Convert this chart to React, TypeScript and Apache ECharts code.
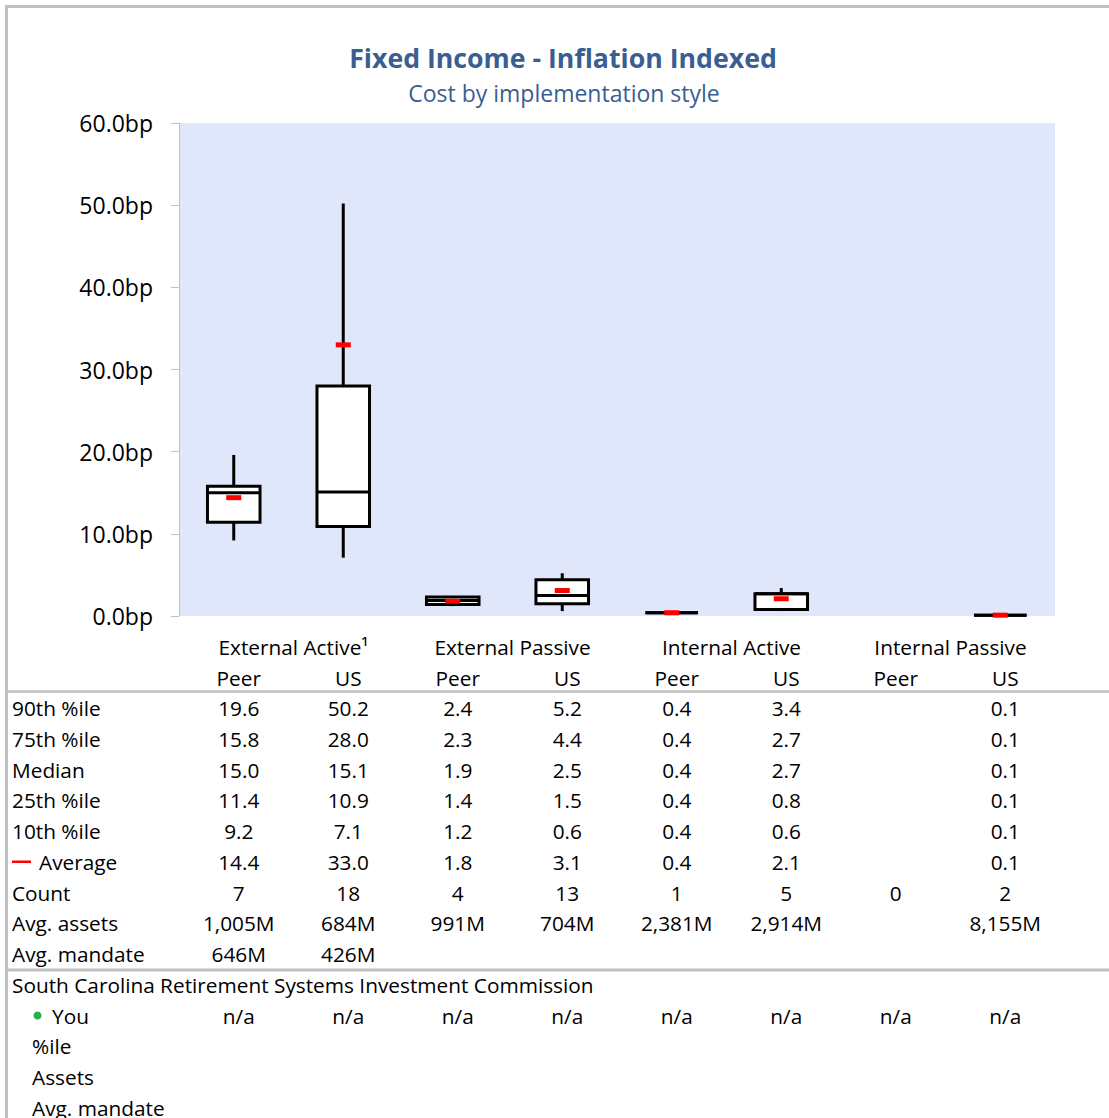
import React, { useEffect, useRef } from "react";
import * as echarts from "echarts";

const categories = ["Peer", "US", "Peer", "US", "Peer", "US", "Peer", "US"];
const groups = ["External Active¹", "External Passive", "Internal Active", "Internal Passive"];
const yTicks = [0, 10, 20, 30, 40, 50, 60];

const p90 = [19.6, 50.2, 2.4, 5.2, 0.4, 3.4, null, 0.1];
const p75 = [15.8, 28.0, 2.3, 4.4, 0.4, 2.7, null, 0.1];
const median = [15.0, 15.1, 1.9, 2.5, 0.4, 2.7, null, 0.1];
const p25 = [11.4, 10.9, 1.4, 1.5, 0.4, 0.8, null, 0.1];
const p10 = [9.2, 7.1, 1.2, 0.6, 0.4, 0.6, null, 0.1];
const average = [14.4, 33.0, 1.8, 3.1, 0.4, 2.1, null, 0.1];
const counts = ["7", "18", "4", "13", "1", "5", "0", "2"];
const avgAssets = ["1,005M", "684M", "991M", "704M", "2,381M", "2,914M", "", "8,155M"];
const avgMandate = ["646M", "426M", "", "", "", "", "", ""];
const youValues = ["n/a", "n/a", "n/a", "n/a", "n/a", "n/a", "n/a", "n/a"];

const FONT = "Open Sans";
const TXT = 20.8;

export default function App() {
  const ref = useRef<HTMLDivElement>(null);
  useEffect(() => {
    if (!ref.current) return;
    const chart = echarts.init(ref.current, null, { renderer: "svg" });

    const boxData: number[][] = [];
    const avgData: number[][] = [];
    categories.forEach((_, i) => {
      if (p90[i] != null) {
        boxData.push([i, p10[i] as number, p25[i] as number, median[i] as number, p75[i] as number, p90[i] as number]);
        avgData.push([i, average[i] as number]);
      }
    });

    chart.setOption({
      animation: false,
      textStyle: { fontFamily: FONT },
      grid: { left: 179, top: 123, right: 54, bottom: 502, backgroundColor: "#e1e7fa", show: true, borderWidth: 0 },
      xAxis: {
        type: "category",
        data: categories.map((c, i) => i),
        axisLine: { show: false },
        axisTick: { show: false },
        axisLabel: { show: false },
        splitLine: { show: false },
      },
      yAxis: {
        type: "value",
        min: yTicks[0],
        max: yTicks[yTicks.length - 1],
        interval: 10,
        axisLine: { show: true, lineStyle: { color: "#c0c0c0", width: 1 } },
        axisTick: { show: true, length: 8, lineStyle: { color: "#c0c0c0" } },
        splitLine: { show: false },
        axisLabel: {
          fontSize: 23,
          color: "#000",
          fontFamily: FONT,
          margin: 26,
          formatter: (v: number) => v.toFixed(1) + "bp",
        },
      },
      series: [
        {
          type: "custom",
          data: boxData,
          encode: { x: 0, y: [1, 2, 3, 4, 5] },
          renderItem: (params: any, api: any) => {
            const idx = api.value(0);
            const lo = api.coord([idx, api.value(1)]);
            const q1 = api.coord([idx, api.value(2)]);
            const md = api.coord([idx, api.value(3)]);
            const q3 = api.coord([idx, api.value(4)]);
            const hi = api.coord([idx, api.value(5)]);
            const w = api.size([1, 0])[0] * 0.48;
            const x = lo[0];
            const st = { stroke: "#000", lineWidth: 3 };
            return {
              type: "group",
              children: [
                { type: "line", shape: { x1: x, y1: lo[1], x2: x, y2: q1[1] }, style: st },
                { type: "line", shape: { x1: x, y1: q3[1], x2: x, y2: hi[1] }, style: st },
                {
                  type: "rect",
                  shape: { x: x - w / 2, y: q3[1], width: w, height: q1[1] - q3[1] },
                  style: { fill: "#fff", stroke: "#000", lineWidth: 3 },
                },
                { type: "line", shape: { x1: x - w / 2, y1: md[1], x2: x + w / 2, y2: md[1] }, style: st },
              ],
            };
          },
        },
        {
          type: "custom",
          data: avgData,
          encode: { x: 0, y: 1 },
          z: 5,
          renderItem: (params: any, api: any) => {
            const p = api.coord([api.value(0), api.value(1)]);
            return {
              type: "rect",
              shape: { x: p[0] - 7.5, y: p[1] - 2.5, width: 15, height: 5 },
              style: { fill: "#ff0000" },
            };
          },
        },
      ],
    });

    const xs = categories.map((_, i) => chart.convertToPixel({ xAxisIndex: 0 }, i) as number);
    const off = 5;
    const g: any[] = [];
    const txt = (text: string, x: number, y: number, align: string, extra: any = {}) =>
      g.push({
        type: "text",
        x,
        y,
        style: {
          text,
          fontSize: TXT,
          fontFamily: FONT,
          fill: "#000",
          textAlign: align,
          textVerticalAlign: "middle",
          ...extra,
        },
      });

    // frame
    g.push({ type: "line", shape: { x1: 6.5, y1: 5, x2: 6.5, y2: 1118 }, style: { stroke: "#c0c0c0", lineWidth: 3 } });
    g.push({ type: "line", shape: { x1: 5, y1: 6.5, x2: 1109, y2: 6.5 }, style: { stroke: "#c0c0c0", lineWidth: 3 } });

    // titles
    txt("Fixed Income - Inflation Indexed", 563, 57, "center", { fontSize: 26.7, fontWeight: "bold", fill: "#3a5e92" });
    txt("Cost by implementation style", 564, 93, "center", { fontSize: 23, fill: "#3a5e92" });

    // group headers
    groups.forEach((gname, k) => {
      txt(gname, (xs[2 * k] + xs[2 * k + 1]) / 2 + off, 647, "center");
    });
    categories.forEach((c, i) => txt(c, xs[i] + off, 678, "center"));

    // separators
    g.push({ type: "line", shape: { x1: 8, y1: 691.5, x2: 1109, y2: 691.5 }, style: { stroke: "#c0c0c0", lineWidth: 2.5 } });
    g.push({ type: "line", shape: { x1: 8, y1: 970, x2: 1109, y2: 970 }, style: { stroke: "#c0c0c0", lineWidth: 3 } });

    const rowY = (k: number) => 708 + k * 30.75;
    const fmt = (arr: (number | null)[]) => arr.map((v) => (v == null ? "" : v.toFixed(1)));
    const rows: [string, string[]][] = [
      ["90th %ile", fmt(p90)],
      ["75th %ile", fmt(p75)],
      ["Median", fmt(median)],
      ["25th %ile", fmt(p25)],
      ["10th %ile", fmt(p10)],
      ["Average", fmt(average)],
      ["Count", counts],
      ["Avg. assets", avgAssets],
      ["Avg. mandate", avgMandate],
    ];
    rows.forEach(([label, vals], k) => {
      const y = rowY(k);
      if (label === "Average") {
        g.push({ type: "line", shape: { x1: 12, y1: y, x2: 31, y2: y }, style: { stroke: "#ff0000", lineWidth: 2.5 } });
        txt(label, 39, y, "left");
      } else {
        txt(label, 12, y, "left");
      }
      vals.forEach((v, i) => v && txt(v, xs[i] + off, y, "center"));
    });

    txt("South Carolina Retirement Systems Investment Commission", 12, rowY(9), "left");
    g.push({ type: "circle", shape: { cx: 37.5, cy: rowY(10), r: 4 }, style: { fill: "#21b24b" } });
    txt("You", 52, rowY(10), "left");
    youValues.forEach((v, i) => txt(v, xs[i] + off, rowY(10), "center"));
    txt("%ile", 32, rowY(11), "left");
    txt("Assets", 32, rowY(12), "left");
    txt("Avg. mandate", 32, rowY(13), "left");

    chart.setOption({ graphic: g });

    return () => chart.dispose();
  }, []);

  return <div ref={ref} style={{ position: "absolute", left: 0, top: 0, width: 1109, height: 1118 }} />;
}
